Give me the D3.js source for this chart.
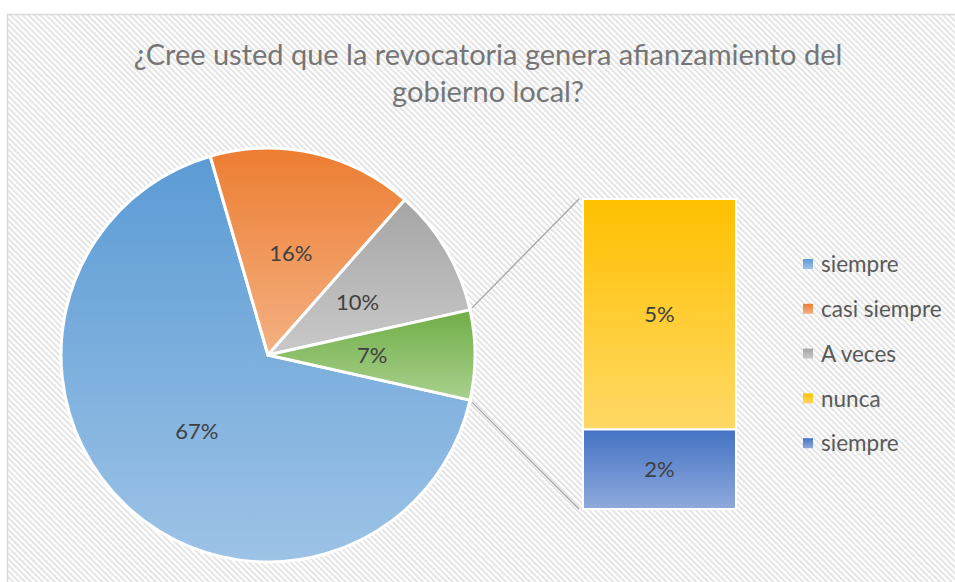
<!DOCTYPE html>
<html>
<head>
<meta charset="utf-8">
<script src="https://cdn.jsdelivr.net/npm/d3@7"></script>
<style>
  body { margin: 0; background: #fff; }
  svg text { font-family: Lato, "Open Sans", sans-serif; }
</style>
</head>
<body>
<svg width="955" height="582"></svg>
<script>
// data
var titleLines = ["¿Cree usted que la revocatoria genera afianzamiento del", "gobierno local?"];
var categories = ["siempre", "casi siempre", "A veces", "nunca", "siempre"];
var values = [67, 16, 10, 5.2, 1.8];
var valueLabels = ["67%", "16%", "10%", "5%", "2%"];
var topColors = ["#5b9bd5", "#ed7d31", "#a5a5a5", "#ffc000", "#4472c4"];
var bottomColors = ["#9dc3e6", "#f4b183", "#c9c9c9", "#ffd966", "#8faadc"];
var otherTop = "#70ad47", otherBottom = "#a9d18e";
var mainCount = 3; // first three go in the pie, the rest are split out in the bar

var svg = d3.select("svg");
var defs = svg.append("defs");

// striped background
var pat = defs.append("pattern")
  .attr("id", "stripes")
  .attr("patternUnits", "userSpaceOnUse")
  .attr("width", 4.2).attr("height", 4.2)
  .attr("patternTransform", "rotate(-45)");
pat.append("rect").attr("width", 4.2).attr("height", 4.2).attr("fill", "#ffffff");
pat.append("rect").attr("width", 2).attr("height", 4.2).attr("fill", "#e4e4e4");

svg.append("rect")
  .attr("x", 7.5).attr("y", 14.5)
  .attr("width", 960).attr("height", 600)
  .attr("fill", "url(#stripes)")
  .attr("stroke", "#d9d9d9")
  .attr("stroke-width", 1.5);

// vertical gradients (top colour -> lighter tint)
function addGrad(id, c1, c2) {
  var g = defs.append("linearGradient").attr("id", id)
    .attr("x1", 0).attr("y1", 0).attr("x2", 0).attr("y2", 1);
  g.append("stop").attr("offset", "0%").attr("stop-color", c1);
  g.append("stop").attr("offset", "100%").attr("stop-color", c2);
}
categories.forEach(function(c, i) { addGrad("g" + i, topColors[i], bottomColors[i]); });
addGrad("gOther", otherTop, otherBottom);

// title
svg.append("text")
  .attr("x", 488).attr("y", 65)
  .attr("text-anchor", "middle")
  .attr("fill", "#767676")
  .style("font-size", "29px")
  .selectAll("tspan")
  .data(titleLines)
  .enter().append("tspan")
  .attr("x", 488)
  .attr("dy", function(d, i) { return i === 0 ? 0 : 37; })
  .text(function(d) { return d; });

// pie: main categories + combined "other"
var otherValue = d3.sum(values.slice(mainCount));
var pieData = values.slice(0, mainCount).map(function(v, i) {
  return { value: v, label: valueLabels[i], fill: "url(#g" + i + ")" };
});
pieData.push({ value: otherValue, label: Math.round(otherValue) + "%", fill: "url(#gOther)" });

var total = d3.sum(pieData, function(d) { return d.value; });
var otherAngle = otherValue / total * 2 * Math.PI;
var start = Math.PI / 2 + otherAngle / 2; // "other" slice centred at 3 o'clock

var cx = 268, cy = 355, R = 207;

var pie = d3.pie()
  .sort(null)
  .startAngle(start)
  .endAngle(start + 2 * Math.PI)
  .value(function(d) { return d.value; });

var arc = d3.arc().innerRadius(0).outerRadius(R);
var labelArc = d3.arc().innerRadius(R * 0.503).outerRadius(R * 0.503);

var gPie = svg.append("g").attr("transform", "translate(" + cx + "," + cy + ")");
var arcs = pie(pieData);

gPie.selectAll("path")
  .data(arcs)
  .enter().append("path")
  .attr("d", arc)
  .attr("fill", function(d) { return d.data.fill; })
  .attr("stroke", "#ffffff")
  .attr("stroke-width", 3)
  .attr("stroke-linejoin", "round");

gPie.selectAll("text")
  .data(arcs)
  .enter().append("text")
  .attr("transform", function(d) { return "translate(" + labelArc.centroid(d) + ")"; })
  .attr("text-anchor", "middle")
  .attr("dy", "0.36em")
  .attr("fill", "#404040")
  .style("font-size", "22px")
  .text(function(d) { return d.data.label; });

// split-out bar
var barX = 583, barW = 153;
var y = d3.scaleLinear().domain([0, otherValue]).range([509, 199]);
var barData = [];
var acc = 0;
for (var i = values.length - 1; i >= mainCount; i--) {
  barData.push({ i: i, y0: acc, y1: acc + values[i] });
  acc += values[i];
}

// connector lines from the pie's "other" slice edges to the bar
var otherArc = arcs[arcs.length - 1];
function edgePoint(a) { return [cx + R * Math.sin(a), cy - R * Math.cos(a)]; }
var pTop = edgePoint(otherArc.startAngle), pBot = edgePoint(otherArc.endAngle);
svg.append("line")
  .attr("x1", pTop[0] + 2).attr("y1", pTop[1] - 2)
  .attr("x2", barX - 4).attr("y2", y(otherValue))
  .attr("stroke", "#a6a6a6").attr("stroke-width", 1.3);
svg.append("line")
  .attr("x1", pBot[0] + 2).attr("y1", pBot[1] + 2)
  .attr("x2", barX - 4).attr("y2", y(0))
  .attr("stroke", "#a6a6a6").attr("stroke-width", 1.3);

var bars = svg.append("g").selectAll("g")
  .data(barData)
  .enter().append("g");

bars.append("rect")
  .attr("x", barX)
  .attr("y", function(d) { return y(d.y1); })
  .attr("width", barW)
  .attr("height", function(d) { return y(d.y0) - y(d.y1); })
  .attr("fill", function(d) { return "url(#g" + d.i + ")"; })
  .attr("stroke", "#ffffff")
  .attr("stroke-width", 2);

bars.append("text")
  .attr("x", barX + barW / 2)
  .attr("y", function(d) { return (y(d.y0) + y(d.y1)) / 2; })
  .attr("dy", "0.36em")
  .attr("text-anchor", "middle")
  .attr("fill", "#404040")
  .style("font-size", "22px")
  .text(function(d) { return valueLabels[d.i]; });

// legend
var legend = svg.append("g").selectAll("g")
  .data(categories)
  .enter().append("g")
  .attr("transform", function(d, i) { return "translate(803," + (264 + i * 44.8) + ")"; });

legend.append("rect")
  .attr("x", 0).attr("y", -5)
  .attr("width", 10).attr("height", 10)
  .attr("fill", function(d, i) { return "url(#g" + i + ")"; });

legend.append("text")
  .attr("x", 18)
  .attr("dy", "0.36em")
  .attr("fill", "#595959")
  .style("font-size", "22.5px")
  .text(function(d) { return d; });
</script>
</body>
</html>
